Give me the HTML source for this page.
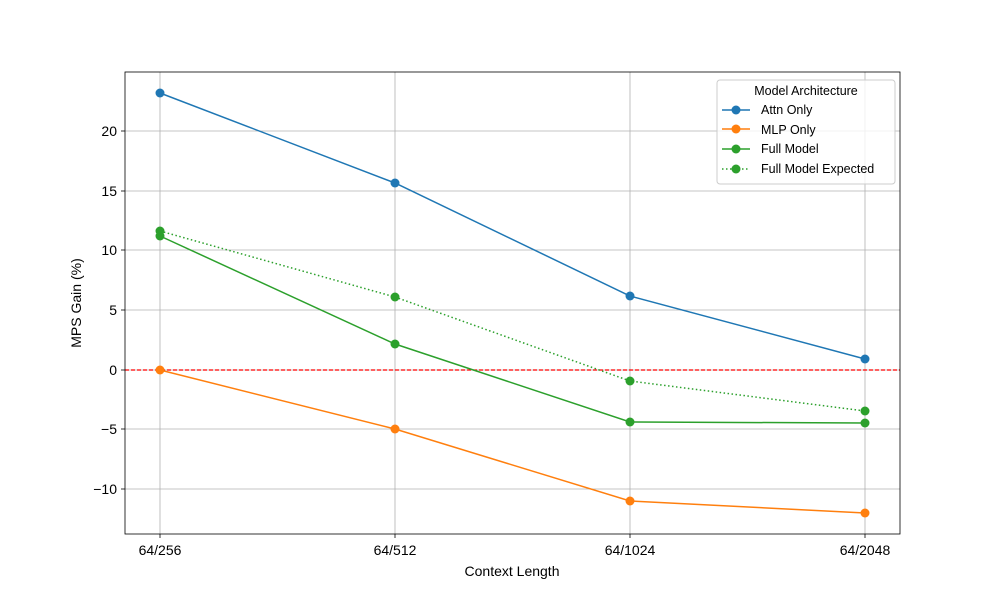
<!DOCTYPE html>
<html><head><meta charset="utf-8"><style>body{margin:0;background:#fff}svg{display:block;font-family:"Liberation Sans","DejaVu Sans",sans-serif}</style></head><body>
<svg width="1000" height="600" viewBox="0 0 1000 600">
<rect width="1000" height="600" fill="#fff"/>
<g stroke="#b0b0b0" stroke-width="0.8">
<line x1="160" y1="72" x2="160" y2="534"/><line x1="395" y1="72" x2="395" y2="534"/><line x1="630" y1="72" x2="630" y2="534"/><line x1="865" y1="72" x2="865" y2="534"/>
<line x1="125" y1="131" x2="900" y2="131"/><line x1="125" y1="191" x2="900" y2="191"/><line x1="125" y1="250" x2="900" y2="250"/><line x1="125" y1="310" x2="900" y2="310"/><line x1="125" y1="370" x2="900" y2="370"/><line x1="125" y1="429" x2="900" y2="429"/><line x1="125" y1="489" x2="900" y2="489"/>
</g>
<line x1="125" y1="370" x2="900" y2="370" stroke="#ff0000" stroke-width="1.2" stroke-dasharray="4,2"/>
<g stroke="#000" stroke-width="0.8">
<line x1="160" y1="534" x2="160" y2="538"/><line x1="395" y1="534" x2="395" y2="538"/><line x1="630" y1="534" x2="630" y2="538"/><line x1="865" y1="534" x2="865" y2="538"/>
<line x1="121" y1="131" x2="125" y2="131"/><line x1="121" y1="191" x2="125" y2="191"/><line x1="121" y1="250" x2="125" y2="250"/><line x1="121" y1="310" x2="125" y2="310"/><line x1="121" y1="370" x2="125" y2="370"/><line x1="121" y1="429" x2="125" y2="429"/><line x1="121" y1="489" x2="125" y2="489"/>
</g>
<g font-size="14" fill="#000" text-anchor="end">
<text x="117" y="136">20</text><text x="117" y="196">15</text><text x="117" y="255">10</text><text x="117" y="315">5</text><text x="117" y="375">0</text><text x="117" y="434">−5</text><text x="117" y="494">−10</text>
</g>
<g font-size="14" fill="#000" text-anchor="middle">
<text x="160" y="555">64/256</text><text x="395" y="555">64/512</text><text x="630" y="555">64/1024</text><text x="865" y="555">64/2048</text>
<text x="512" y="576">Context Length</text>
<text transform="translate(81,303) rotate(-90)">MPS Gain (%)</text>
</g>
<polyline points="160,93 395,183 630,296 865,359" fill="none" stroke="#1f77b4" stroke-width="1.5"/>
<g fill="#1f77b4"><circle cx="160" cy="93" r="4.5"/><circle cx="395" cy="183" r="4.5"/><circle cx="630" cy="296" r="4.5"/><circle cx="865" cy="359" r="4.5"/></g>
<polyline points="160,370 395,429 630,501 865,513" fill="none" stroke="#ff7f0e" stroke-width="1.5"/>
<g fill="#ff7f0e"><circle cx="160" cy="370" r="4.5"/><circle cx="395" cy="429" r="4.5"/><circle cx="630" cy="501" r="4.5"/><circle cx="865" cy="513" r="4.5"/></g>
<polyline points="160,236 395,344 630,422 865,423" fill="none" stroke="#2ca02c" stroke-width="1.5"/>
<g fill="#2ca02c"><circle cx="160" cy="236" r="4.5"/><circle cx="395" cy="344" r="4.5"/><circle cx="630" cy="422" r="4.5"/><circle cx="865" cy="423" r="4.5"/></g>
<polyline points="160,231 395,297 630,381 865,411" fill="none" stroke="#2ca02c" stroke-width="1.5" stroke-dasharray="1.5,2.5"/>
<g fill="#2ca02c"><circle cx="160" cy="231" r="4.5"/><circle cx="395" cy="297" r="4.5"/><circle cx="630" cy="381" r="4.5"/><circle cx="865" cy="411" r="4.5"/></g>
<rect x="125" y="72" width="775" height="462" fill="none" stroke="#000" stroke-width="0.8"/>
<rect x="717" y="80" width="178" height="104" rx="3" fill="#fff" fill-opacity="0.8" stroke="#ccc"/>
<g font-size="12.5" fill="#000">
<text x="806" y="95" text-anchor="middle">Model Architecture</text>
<text x="761" y="114">Attn Only</text><text x="761" y="134">MLP Only</text><text x="761" y="153">Full Model</text><text x="761" y="173">Full Model Expected</text>
</g>
<line x1="722" y1="110" x2="750" y2="110" stroke="#1f77b4" stroke-width="1.5"/><circle cx="736" cy="110" r="4.5" fill="#1f77b4"/>
<line x1="722" y1="129" x2="750" y2="129" stroke="#ff7f0e" stroke-width="1.5"/><circle cx="736" cy="129" r="4.5" fill="#ff7f0e"/>
<line x1="722" y1="149" x2="750" y2="149" stroke="#2ca02c" stroke-width="1.5"/><circle cx="736" cy="149" r="4.5" fill="#2ca02c"/>
<line x1="722" y1="169" x2="750" y2="169" stroke="#2ca02c" stroke-width="1.5" stroke-dasharray="1.5,2.5"/><circle cx="736" cy="169" r="4.5" fill="#2ca02c"/>
</svg>
</body></html>
